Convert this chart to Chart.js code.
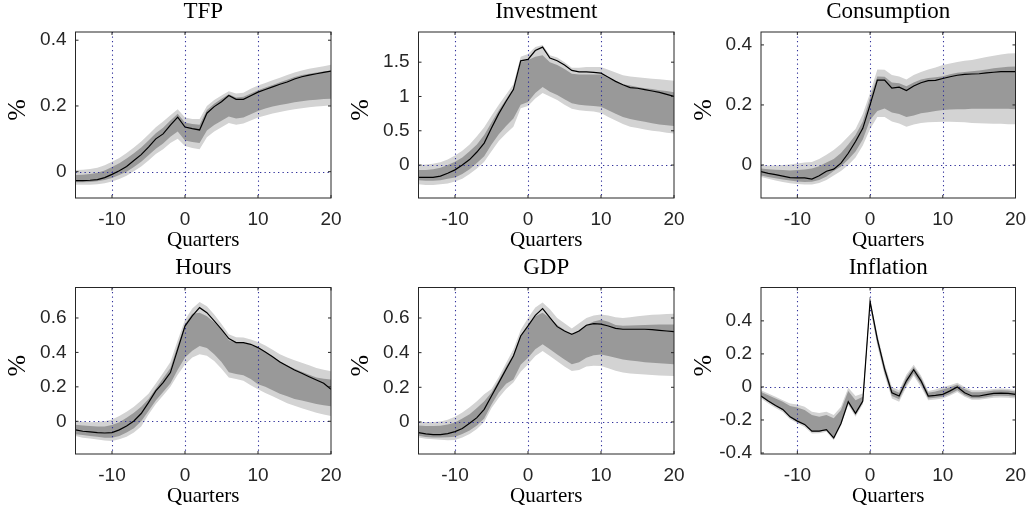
<!DOCTYPE html>
<html>
<head>
<meta charset="utf-8">
<script src="https://cdn.jsdelivr.net/npm/chart.js@4.4.1/dist/chart.umd.min.js"></script>
<style>
  html, body { margin: 0; padding: 0; background: #fff; }
  #wrap { position: relative; width: 1029px; height: 516px; overflow: hidden; }
  #wrap canvas { position: absolute; }
</style>
</head>
<body>
<div id="wrap"></div>
<script>
// horizon in quarters
const quarters = [-15,-14,-13,-12,-11,-10,-9,-8,-7,-6,-5,-4,-3,-2,-1,0,1,2,3,4,5,6,7,8,9,10,11,12,13,14,15,16,17,18,19,20];
const xTicks = [-10, 0, 10, 20];
const refX = [-10, 0, 10];
const refY = [0];

// TFP
const tfpMean  = [-0.027,-0.027,-0.026,-0.024,-0.018,-0.008,0.003,0.016,0.034,0.052,0.075,0.100,0.115,0.142,0.166,0.136,0.131,0.127,0.178,0.198,0.213,0.232,0.220,0.220,0.231,0.242,0.250,0.258,0.266,0.273,0.282,0.289,0.294,0.298,0.302,0.306];
const tfpInHi  = [-0.010,-0.009,-0.007,-0.003,0.004,0.014,0.026,0.040,0.056,0.074,0.095,0.117,0.134,0.156,0.176,0.150,0.145,0.143,0.188,0.207,0.222,0.236,0.226,0.228,0.238,0.248,0.256,0.264,0.272,0.280,0.288,0.294,0.298,0.302,0.305,0.308];
const tfpInLo  = [-0.032,-0.032,-0.031,-0.029,-0.025,-0.019,-0.010,0.000,0.014,0.030,0.050,0.070,0.086,0.106,0.122,0.095,0.090,0.087,0.125,0.142,0.155,0.168,0.162,0.165,0.175,0.185,0.192,0.198,0.203,0.207,0.211,0.214,0.217,0.219,0.221,0.222];
const tfpOutHi = [0.005,0.006,0.008,0.012,0.020,0.030,0.042,0.057,0.074,0.092,0.113,0.135,0.153,0.172,0.190,0.165,0.160,0.160,0.200,0.218,0.232,0.245,0.238,0.240,0.252,0.262,0.270,0.278,0.286,0.294,0.302,0.308,0.313,0.317,0.321,0.325];
const tfpOutLo = [-0.040,-0.040,-0.040,-0.038,-0.035,-0.030,-0.022,-0.012,0.001,0.016,0.034,0.054,0.068,0.087,0.100,0.078,0.072,0.068,0.105,0.122,0.135,0.148,0.143,0.147,0.156,0.165,0.171,0.177,0.182,0.186,0.190,0.193,0.196,0.198,0.200,0.202];

// Investment
const invMean  = [-0.18,-0.18,-0.18,-0.16,-0.12,-0.07,0.00,0.08,0.19,0.32,0.54,0.75,0.93,1.10,1.52,1.54,1.67,1.72,1.56,1.52,1.46,1.38,1.36,1.36,1.35,1.34,1.28,1.22,1.17,1.13,1.12,1.10,1.08,1.06,1.03,1.00];
const invInHi  = [-0.07,-0.07,-0.06,-0.04,0.00,0.05,0.11,0.20,0.30,0.44,0.62,0.80,0.96,1.12,1.50,1.53,1.58,1.60,1.50,1.46,1.40,1.33,1.32,1.32,1.32,1.32,1.27,1.22,1.18,1.16,1.14,1.12,1.11,1.09,1.08,1.06];
const invInLo  = [-0.22,-0.23,-0.23,-0.22,-0.20,-0.18,-0.13,-0.06,0.03,0.13,0.30,0.45,0.57,0.68,0.88,0.92,1.05,1.14,1.07,1.02,0.96,0.90,0.88,0.87,0.86,0.85,0.80,0.75,0.70,0.67,0.65,0.63,0.61,0.59,0.58,0.57];
const invOutHi = [0.00,0.01,0.02,0.04,0.08,0.14,0.21,0.30,0.42,0.55,0.72,0.88,1.03,1.18,1.58,1.62,1.72,1.75,1.60,1.57,1.50,1.42,1.42,1.43,1.43,1.43,1.39,1.35,1.31,1.29,1.28,1.27,1.26,1.25,1.24,1.23];
const invOutLo = [-0.28,-0.29,-0.29,-0.28,-0.27,-0.24,-0.20,-0.13,-0.05,0.05,0.20,0.35,0.46,0.56,0.83,0.86,0.97,1.05,1.00,0.95,0.88,0.82,0.80,0.79,0.78,0.76,0.70,0.65,0.60,0.56,0.54,0.52,0.50,0.49,0.47,0.46];

// Consumption
const conMean  = [-0.022,-0.028,-0.032,-0.037,-0.042,-0.043,-0.043,-0.047,-0.036,-0.021,-0.014,0.006,0.039,0.078,0.122,0.200,0.283,0.283,0.256,0.259,0.248,0.263,0.274,0.281,0.282,0.288,0.294,0.299,0.302,0.303,0.304,0.307,0.309,0.311,0.311,0.311];
const conInHi  = [-0.012,-0.014,-0.016,-0.017,-0.018,-0.017,-0.015,-0.012,-0.004,0.008,0.020,0.040,0.068,0.100,0.145,0.225,0.295,0.294,0.275,0.272,0.262,0.275,0.285,0.290,0.292,0.296,0.302,0.307,0.310,0.312,0.315,0.318,0.322,0.325,0.327,0.328];
const conInLo  = [-0.035,-0.040,-0.044,-0.048,-0.052,-0.055,-0.057,-0.056,-0.050,-0.038,-0.020,-0.005,0.018,0.045,0.085,0.150,0.180,0.188,0.175,0.170,0.160,0.165,0.172,0.176,0.180,0.183,0.185,0.186,0.186,0.187,0.187,0.187,0.187,0.187,0.187,0.186];
const conOutHi = [-0.002,-0.002,-0.002,0.000,0.002,0.005,0.008,0.010,0.020,0.034,0.050,0.070,0.095,0.120,0.170,0.240,0.318,0.317,0.300,0.295,0.285,0.300,0.310,0.318,0.325,0.333,0.338,0.343,0.347,0.350,0.355,0.360,0.364,0.368,0.371,0.372];
const conOutLo = [-0.040,-0.046,-0.052,-0.057,-0.061,-0.063,-0.065,-0.065,-0.060,-0.050,-0.035,-0.020,0.000,0.025,0.065,0.120,0.160,0.160,0.145,0.138,0.127,0.135,0.140,0.142,0.143,0.144,0.144,0.143,0.142,0.140,0.139,0.138,0.137,0.137,0.136,0.136];

// Hours
const hrsMean  = [-0.050,-0.058,-0.062,-0.066,-0.068,-0.066,-0.050,-0.027,0.002,0.045,0.108,0.176,0.225,0.283,0.418,0.553,0.612,0.660,0.631,0.583,0.534,0.480,0.457,0.457,0.447,0.428,0.403,0.375,0.344,0.321,0.298,0.279,0.259,0.240,0.221,0.186];
const hrsInHi  = [-0.020,-0.025,-0.028,-0.030,-0.030,-0.022,-0.005,0.020,0.050,0.085,0.130,0.190,0.250,0.310,0.440,0.565,0.625,0.630,0.610,0.575,0.530,0.470,0.458,0.458,0.445,0.430,0.405,0.375,0.348,0.325,0.305,0.287,0.270,0.255,0.247,0.242];
const hrsInLo  = [-0.075,-0.080,-0.085,-0.090,-0.095,-0.095,-0.085,-0.065,-0.040,0.000,0.060,0.120,0.170,0.220,0.300,0.370,0.410,0.437,0.425,0.390,0.345,0.285,0.275,0.268,0.245,0.215,0.200,0.180,0.160,0.145,0.130,0.120,0.110,0.100,0.093,0.088];
const hrsOutHi = [0.000,-0.003,-0.005,-0.004,0.000,0.010,0.030,0.055,0.085,0.120,0.160,0.220,0.280,0.345,0.470,0.590,0.655,0.693,0.668,0.620,0.565,0.505,0.488,0.486,0.475,0.460,0.440,0.415,0.390,0.370,0.355,0.340,0.325,0.310,0.300,0.290];
const hrsOutLo = [-0.085,-0.095,-0.100,-0.106,-0.112,-0.114,-0.105,-0.090,-0.065,-0.030,0.040,0.100,0.150,0.200,0.270,0.330,0.370,0.389,0.380,0.350,0.305,0.255,0.245,0.235,0.210,0.186,0.165,0.145,0.125,0.105,0.090,0.075,0.062,0.050,0.040,0.030];

// GDP
const gdpMean  = [-0.062,-0.069,-0.073,-0.073,-0.067,-0.056,-0.038,-0.008,0.025,0.073,0.150,0.227,0.304,0.381,0.496,0.554,0.615,0.654,0.602,0.550,0.525,0.506,0.525,0.558,0.567,0.565,0.554,0.540,0.535,0.535,0.535,0.535,0.533,0.529,0.525,0.521];
const gdpInHi  = [-0.020,-0.023,-0.024,-0.022,-0.015,-0.003,0.020,0.045,0.080,0.120,0.170,0.240,0.320,0.390,0.500,0.555,0.610,0.630,0.600,0.560,0.530,0.500,0.530,0.560,0.580,0.590,0.578,0.560,0.555,0.556,0.558,0.560,0.561,0.562,0.562,0.563];
const gdpInLo  = [-0.080,-0.087,-0.090,-0.090,-0.088,-0.085,-0.070,-0.050,-0.020,0.020,0.100,0.170,0.220,0.245,0.330,0.370,0.420,0.448,0.420,0.390,0.360,0.333,0.345,0.370,0.385,0.390,0.380,0.370,0.360,0.355,0.350,0.345,0.342,0.339,0.336,0.333];
const gdpOutHi = [0.000,0.000,0.000,0.003,0.012,0.030,0.055,0.085,0.120,0.160,0.190,0.260,0.340,0.420,0.530,0.600,0.660,0.690,0.650,0.600,0.570,0.540,0.570,0.600,0.615,0.620,0.615,0.605,0.600,0.605,0.610,0.615,0.618,0.620,0.623,0.625];
const gdpOutLo = [-0.090,-0.097,-0.100,-0.103,-0.105,-0.104,-0.090,-0.070,-0.040,0.000,0.080,0.140,0.190,0.227,0.290,0.333,0.380,0.410,0.380,0.350,0.320,0.294,0.300,0.320,0.325,0.323,0.310,0.295,0.285,0.280,0.277,0.274,0.271,0.268,0.266,0.265];

// Inflation
const infMean  = [-0.055,-0.085,-0.112,-0.136,-0.181,-0.207,-0.227,-0.268,-0.268,-0.258,-0.309,-0.221,-0.089,-0.160,-0.085,0.518,0.290,0.108,-0.035,-0.055,0.037,0.104,0.037,-0.055,-0.051,-0.045,-0.024,0.000,-0.035,-0.055,-0.055,-0.047,-0.039,-0.037,-0.039,-0.045];
const infInHi  = [-0.030,-0.050,-0.070,-0.090,-0.115,-0.125,-0.140,-0.170,-0.180,-0.170,-0.190,-0.140,-0.025,-0.080,-0.060,0.520,0.305,0.125,-0.015,-0.035,0.060,0.120,0.055,-0.035,-0.028,-0.015,-0.002,0.015,-0.012,-0.032,-0.032,-0.028,-0.022,-0.020,-0.022,-0.027];
const infInLo  = [-0.060,-0.090,-0.117,-0.142,-0.185,-0.210,-0.232,-0.272,-0.270,-0.262,-0.310,-0.225,-0.100,-0.170,-0.095,0.490,0.265,0.085,-0.055,-0.075,0.015,0.082,0.015,-0.070,-0.066,-0.060,-0.042,-0.020,-0.050,-0.068,-0.068,-0.062,-0.055,-0.053,-0.055,-0.060];
const infOutHi = [-0.020,-0.040,-0.060,-0.080,-0.100,-0.107,-0.120,-0.150,-0.158,-0.150,-0.170,-0.120,-0.005,-0.055,-0.040,0.530,0.320,0.140,0.000,-0.020,0.075,0.135,0.070,-0.025,-0.015,0.000,0.010,0.025,0.000,-0.020,-0.020,-0.018,-0.012,-0.010,-0.012,-0.018];
const infOutLo = [-0.070,-0.100,-0.127,-0.152,-0.195,-0.220,-0.242,-0.282,-0.280,-0.272,-0.322,-0.235,-0.110,-0.180,-0.105,0.480,0.250,0.070,-0.070,-0.090,0.000,0.067,0.000,-0.080,-0.076,-0.070,-0.052,-0.030,-0.060,-0.078,-0.078,-0.072,-0.066,-0.064,-0.066,-0.070];

const tfpTicks = [0, 0.2, 0.4];
const invTicks = [0, 0.5, 1, 1.5];
const conTicks = [0, 0.2, 0.4];
const hrsTicks = [0, 0.2, 0.4, 0.6];
const gdpTicks = [0, 0.2, 0.4, 0.6];
const infTicks = [-0.4, -0.2, 0, 0.2, 0.4];

const panels = [
  { title: 'TFP',         mean: tfpMean, inHi: tfpInHi, inLo: tfpInLo, outHi: tfpOutHi, outLo: tfpOutLo, yTicks: tfpTicks, yMin: -0.08, yMax: 0.425 },
  { title: 'Investment',  mean: invMean, inHi: invInHi, inLo: invInLo, outHi: invOutHi, outLo: invOutLo, yTicks: invTicks, yMin: -0.48, yMax: 1.94 },
  { title: 'Consumption', mean: conMean, inHi: conInHi, inLo: conInLo, outHi: conOutHi, outLo: conOutLo, yTicks: conTicks, yMin: -0.11, yMax: 0.443 },
  { title: 'Hours',       mean: hrsMean, inHi: hrsInHi, inLo: hrsInLo, outHi: hrsOutHi, outLo: hrsOutLo, yTicks: hrsTicks, yMin: -0.19, yMax: 0.777 },
  { title: 'GDP',         mean: gdpMean, inHi: gdpInHi, inLo: gdpInLo, outHi: gdpOutHi, outLo: gdpOutLo, yTicks: gdpTicks, yMin: -0.185, yMax: 0.776 },
  { title: 'Inflation',   mean: infMean, inHi: infInHi, inLo: infInLo, outHi: infOutHi, outLo: infOutLo, yTicks: infTicks, yMin: -0.406, yMax: 0.602 }
];

// cell geometry (each panel canvas is one 343x258 cell)
const CELL_W = 343, CELL_H = 258;
const colBox = [ [75.5, 331], [75.5, 331], [75, 329.5] ];   // plot left/right inside cell
const rowBox = [ [32, 198], [29.5, 196] ];                   // plot top/bottom inside cell

const AXIS_COL = '#262626';
const DARK = '#999999';
const LIGHT = '#d3d3d3';
const DOT = '#30309a';

const pts = arr => quarters.map((q, i) => ({ x: q, y: arr[i] }));

// dotted reference lines, frame with inward ticks, titles and labels
const deco = {
  id: 'deco',
  beforeDatasetDraw(chart, args) {
    if (args.index !== 0) return;
    const { ctx, chartArea: a, scales: { x, y } } = chart;
    ctx.save();
    ctx.beginPath();
    ctx.rect(a.left, a.top, a.right - a.left, a.bottom - a.top);
    ctx.clip();
    ctx.strokeStyle = DOT;
    ctx.lineWidth = 1.1;
    ctx.setLineDash([1.3, 3.2]);
    refX.forEach(v => {
      const px = Math.round(x.getPixelForValue(v)) + 0.5;
      ctx.beginPath(); ctx.moveTo(px, a.top); ctx.lineTo(px, a.bottom); ctx.stroke();
    });
    refY.forEach(v => {
      const py = Math.round(y.getPixelForValue(v)) + 0.5;
      ctx.beginPath(); ctx.moveTo(a.left, py); ctx.lineTo(a.right, py); ctx.stroke();
    });
    ctx.restore();
  },
  afterDraw(chart, args, opts) {
    const { ctx, chartArea: a, scales: { x, y } } = chart;
    ctx.save();
    ctx.strokeStyle = AXIS_COL;
    ctx.lineWidth = 1;
    ctx.setLineDash([]);
    ctx.strokeRect(a.left, a.top, a.right - a.left, a.bottom - a.top);
    const tl = 3;
    ctx.beginPath();
    xTicks.forEach(v => {
      const px = x.getPixelForValue(v);
      ctx.moveTo(px, a.bottom); ctx.lineTo(px, a.bottom - tl);
      ctx.moveTo(px, a.top); ctx.lineTo(px, a.top + tl);
    });
    opts.yTicks.forEach(v => {
      const py = y.getPixelForValue(v);
      ctx.moveTo(a.left, py); ctx.lineTo(a.left + tl, py);
      ctx.moveTo(a.right, py); ctx.lineTo(a.right - tl, py);
    });
    ctx.stroke();

    const cx = (a.left + a.right) / 2;
    ctx.fillStyle = '#000';
    ctx.textAlign = 'center';
    ctx.textBaseline = 'middle';
    ctx.font = '23px "Liberation Serif", serif';
    ctx.fillText(opts.title, cx, a.top - 20);
    ctx.font = '21px "Liberation Serif", serif';
    ctx.fillText('Quarters', cx, a.bottom + 42);
    ctx.save();
    ctx.translate(a.left - 57, (a.top + a.bottom) / 2 - 5);
    ctx.rotate(-Math.PI / 2);
    ctx.font = '26px "Liberation Serif", serif';
    ctx.fillText('%', 0, 0);
    ctx.restore();
    ctx.restore();
  }
};

const wrap = document.getElementById('wrap');
panels.forEach((p, i) => {
  const col = i % 3, row = Math.floor(i / 3);
  const [L, R] = colBox[col];
  const [T, B] = rowBox[row];
  const cv = document.createElement('canvas');
  cv.width = CELL_W; cv.height = CELL_H;
  cv.style.left = (col * CELL_W) + 'px';
  cv.style.top = (row * CELL_H) + 'px';
  cv.style.width = CELL_W + 'px';
  cv.style.height = CELL_H + 'px';
  wrap.appendChild(cv);

  new Chart(cv.getContext('2d'), {
    type: 'line',
    data: {
      datasets: [
        { data: pts(p.mean), borderColor: '#000', borderWidth: 1.2, pointRadius: 0, fill: false, order: 0 },
        { data: pts(p.inHi), borderWidth: 0, pointRadius: 0, backgroundColor: DARK, fill: '+1', order: 1 },
        { data: pts(p.inLo), borderWidth: 0, pointRadius: 0, fill: false, order: 2 },
        { data: pts(p.outHi), borderWidth: 0, pointRadius: 0, backgroundColor: LIGHT, fill: '+1', order: 3 },
        { data: pts(p.outLo), borderWidth: 0, pointRadius: 0, fill: false, order: 4 }
      ]
    },
    options: {
      responsive: false,
      devicePixelRatio: 1,
      animation: false,
      events: [],
      layout: { padding: { left: 0, top: T, right: CELL_W - R, bottom: 0 } },
      plugins: {
        legend: { display: false },
        tooltip: { enabled: false },
        deco: { title: p.title, yTicks: p.yTicks }
      },
      scales: {
        x: {
          type: 'linear', min: -15, max: 20,
          grid: { display: false, drawTicks: false },
          border: { display: false },
          afterBuildTicks: s => { s.ticks = xTicks.map(v => ({ value: v })); },
          afterFit: s => { s.height = CELL_H - B; s.paddingLeft = 0; s.paddingRight = 0; },
          ticks: { color: AXIS_COL, padding: 10, maxRotation: 0, autoSkip: false,
                   font: { family: '"Liberation Sans", Arial, sans-serif', size: 19 },
                   callback: v => String(v) }
        },
        y: {
          type: 'linear', min: p.yMin, max: p.yMax,
          grid: { display: false, drawTicks: false },
          border: { display: false },
          afterBuildTicks: s => { s.ticks = p.yTicks.map(v => ({ value: v })); },
          afterFit: s => { s.width = L; s.paddingTop = 0; s.paddingBottom = 0; },
          ticks: { color: AXIS_COL, padding: 9, autoSkip: false,
                   font: { family: '"Liberation Sans", Arial, sans-serif', size: 19 },
                   callback: v => String(v) }
        }
      }
    },
    plugins: [deco]
  });
});
</script>
</body>
</html>
